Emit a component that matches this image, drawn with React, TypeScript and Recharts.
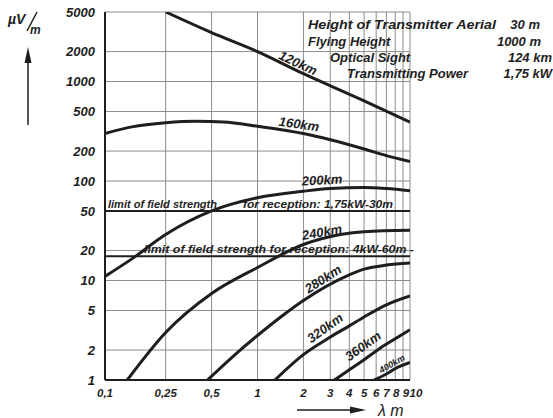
import React from "react";
import {
  LineChart,
  Line,
  XAxis,
  YAxis,
  CartesianGrid,
  ReferenceLine,
} from "recharts";

// wavelength (m) and field strength (µV/m) per distance
const lambda120 = [0.25, 0.5, 1, 2, 5, 10];
const field120 = [5000, 3100, 2000, 1200, 640, 390];

const lambda160 = [0.1, 0.15, 0.25, 0.4, 0.6, 1, 2, 3, 5, 7, 10];
const field160 = [300, 350, 385, 398, 392, 355, 300, 260, 210, 180, 157];

const lambda200 = [0.1, 0.15, 0.25, 0.5, 1, 2, 3, 5, 7, 10];
const field200 = [11, 16.5, 29, 50, 68, 79, 84, 86, 84, 80];

const lambda240 = [0.14, 0.25, 0.5, 1, 2, 3.5, 5, 10];
const field240 = [1, 3, 7.4, 13.5, 23, 29, 31, 32];

const lambda280 = [0.47, 0.77, 1, 1.42, 2, 3.9, 5, 7, 10];
const field280 = [1, 2, 2.8, 4.3, 6.3, 11.2, 13, 14.3, 15];

const lambda320 = [1.3, 2, 3, 4, 5, 7, 10];
const field320 = [1, 1.8, 2.7, 3.5, 4.3, 5.7, 7];

const lambda360 = [3.2, 4, 5, 6.4, 8, 10];
const field360 = [1, 1.27, 1.6, 2.1, 2.6, 3.2];

const lambda400 = [5.8, 7, 8, 10];
const field400 = [1, 1.15, 1.3, 1.5];

const xTicks = [0.1, 0.25, 0.5, 1, 2, 3, 4, 5, 6, 7, 8, 9, 10];
const yTicks = [1, 2, 5, 10, 20, 50, 100, 200, 500, 1000, 2000, 5000];

const limit175 = 50;
const limit4 = 17.5;

const toPoints = (xs: number[], ys: number[]) =>
  xs.map((x, i) => ({ x, y: ys[i] }));

const curves = [
  { name: "120km", data: toPoints(lambda120, field120) },
  { name: "160km", data: toPoints(lambda160, field160) },
  { name: "200km", data: toPoints(lambda200, field200) },
  { name: "240km", data: toPoints(lambda240, field240) },
  { name: "280km", data: toPoints(lambda280, field280) },
  { name: "320km", data: toPoints(lambda320, field320) },
  { name: "360km", data: toPoints(lambda360, field360) },
  { name: "400km", data: toPoints(lambda400, field400) },
];

const FONT = '"Liberation Sans", Arial, sans-serif';
const INK = "#1e1e1e";

const txt = {
  fontFamily: FONT,
  fontStyle: "italic",
  fontWeight: 700,
  fill: INK,
} as const;

const fmtX = (v: number) => String(v).replace(".", ",");

// the last labels sit crowded at the right end, nudge them a bit
const nudge: Record<number, number> = { 8: 1, 9: 3, 10: 6 };

const XTick = (props: any) => {
  const { x, y, payload } = props;
  const v = payload.value as number;
  return (
    <text {...txt} fontSize={11.5} x={x + (nudge[v] || 0)} y={y + 11} textAnchor="middle">
      {fmtX(v)}
    </text>
  );
};

// curve labels: [text, cx, cy, angle, size]
const curveLabels: [string, number, number, number, number][] = [
  ["120km", 298, 63, 25, 13],
  ["160km", 299, 124, 8, 13],
  ["200km", 322, 180, -3, 13],
  ["240km", 322, 232, -10, 13],
  ["280km", 323, 279, -33, 13],
  ["320km", 325, 328, -36, 13],
  ["360km", 363, 346, -36, 13],
  ["400km", 392, 364, -30, 9],
];

const App: React.FC = () => {
  return (
    <div style={{ position: "absolute", left: 0, top: 0, width: 553, height: 418, background: "#fff" }}>
      <LineChart
        width={553}
        height={418}
        margin={{ top: 12, right: 143, bottom: 0, left: 45 }}
      >
        <CartesianGrid stroke="#8c8c8c" strokeWidth={1} />
        <XAxis
          dataKey="x"
          type="number"
          scale="log"
          domain={[0.1, 10]}
          ticks={xTicks}
          allowDataOverflow
          interval={0}
          height={38}
          tickSize={0}
          tickMargin={6}
          axisLine={{ stroke: INK, strokeWidth: 2 }}
          tick={<XTick />}
        />
        <YAxis
          dataKey="y"
          type="number"
          scale="log"
          domain={[1, 5000]}
          ticks={yTicks}
          allowDataOverflow
          interval={0}
          width={60}
          tickSize={0}
          tickMargin={10}
          axisLine={{ stroke: INK, strokeWidth: 2 }}
          tick={{ ...txt, fontSize: 13 }}
        />
        <ReferenceLine y={limit175} stroke={INK} strokeWidth={2} />
        <ReferenceLine y={limit4} stroke={INK} strokeWidth={2} />
        {curves.map((c) => (
          <Line
            key={c.name}
            data={c.data}
            dataKey="y"
            type="monotone"
            stroke={INK}
            strokeWidth={3}
            dot={false}
            isAnimationActive={false}
          />
        ))}
      </LineChart>

      <svg
        width={553}
        height={418}
        style={{ position: "absolute", left: 0, top: 0, pointerEvents: "none" }}
      >
        {/* header */}
        <text {...txt} fontSize={13} x={308} y={29} textLength={188} lengthAdjust="spacingAndGlyphs">Height of Transmitter Aerial</text>
        <text {...txt} fontSize={13} x={540} y={29} textAnchor="end">30 m</text>
        <text {...txt} fontSize={13} x={308} y={46}>Flying Height</text>
        <text {...txt} fontSize={13} x={541} y={46} textAnchor="end">1000 m</text>
        <text {...txt} fontSize={13} x={330} y={62}>Optical Sight</text>
        <text {...txt} fontSize={13} x={552} y={62} textAnchor="end">124 km</text>
        <text {...txt} fontSize={13} x={347} y={78}>Transmitting Power</text>
        <text {...txt} fontSize={13} x={552} y={78} textAnchor="end">1,75 kW</text>

        {/* unit + arrow on y */}
        <text {...txt} fontSize={14} x={8} y={24}>µV</text>
        <line x1={37} y1={12} x2={27} y2={31} stroke={INK} strokeWidth={1.5} />
        <text {...txt} fontSize={12} x={30} y={34}>m</text>
        <line x1={28} y1={58} x2={28} y2={125} stroke={INK} strokeWidth={1.5} />
        <polygon points="28,47 24.5,63 31.5,63" fill={INK} />

        {/* arrow on x */}
        <line x1={297} y1={410} x2={355} y2={410} stroke={INK} strokeWidth={1.5} />
        <polygon points="366,410 350,406.5 350,413.5" fill={INK} />
        <text {...txt} fontSize={16} fontWeight={400} x={378} y={416}>λ m</text>

        {/* limit labels */}
        <text {...txt} fontSize={10} x={108} y={208} textLength={109} lengthAdjust="spacingAndGlyphs">limit of field strength</text>
        <text {...txt} fontSize={10} x={243} y={208} textLength={150} lengthAdjust="spacingAndGlyphs">for reception: 1,75kW-30m</text>
        <text {...txt} fontSize={10} x={144} y={253} textLength={270} lengthAdjust="spacingAndGlyphs">limit of field strength for reception: 4kW-60m -</text>

        {curveLabels.map(([t, cx, cy, a, s]) => (
          <text
            key={t}
            {...txt}
            fontSize={s}
            x={cx}
            y={cy}
            textAnchor="middle"
            dominantBaseline="central"
            transform={`rotate(${a} ${cx} ${cy})`}
          >
            {t}
          </text>
        ))}
      </svg>
    </div>
  );
};

export default App;
